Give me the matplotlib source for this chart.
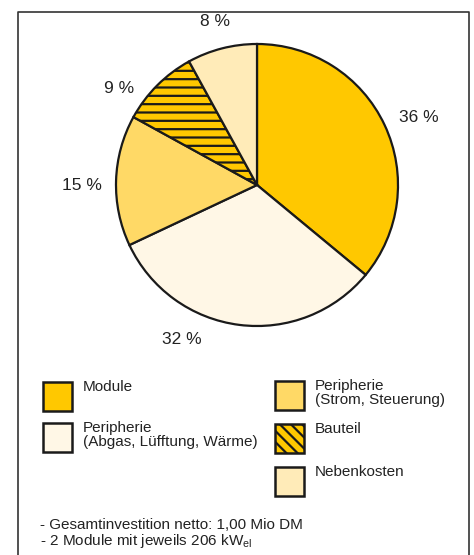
import matplotlib.pyplot as plt
from matplotlib.patches import Rectangle
from matplotlib.lines import Line2D

plt.rcParams['font.family'] = ['Liberation Sans', 'DejaVu Sans']
plt.rcParams['mathtext.fontset'] = 'custom'
plt.rcParams['mathtext.rm'] = 'Liberation Sans'
plt.rcParams['hatch.linewidth'] = 1.6

# --------------------------
# Data
# --------------------------
shares = [36, 32, 15, 9, 8]
names = ["Module",
         "Peripherie\n(Abgas, Lüfftung, Wärme)",
         "Peripherie\n(Strom, Steuerung)",
         "Bauteil",
         "Nebenkosten"]
colors = ["#FFC800", "#FFF7E6", "#FFD966", "#FFC800", "#FFEBB8"]
pie_hatch = [None, None, None, "--", None]
legend_hatch = [None, None, None, "\\\\\\", None]
notes = ["- Gesamtinvestition netto: 1,00 Mio DM",
         "- 2 Module mit jeweils 206 kW$_{\\mathrm{el}}$"]

W, H = 474, 555
fig = plt.figure(figsize=(W / 100, H / 100), dpi=100)

def px(x, y):
    return x / W, 1 - y / H

# --------------------------
# Pie
# --------------------------
cx, cy, r = 257, 185, 141
ax = fig.add_axes([(cx - r) / W, (H - cy - r) / H, 2 * r / W, 2 * r / H])
wedges, texts = ax.pie(
    shares, colors=colors, startangle=90, counterclock=False,
    labels=[f"{s} %" for s in shares], labeldistance=1.22,
    wedgeprops=dict(edgecolor="#1a1a1a", linewidth=1.6),
    textprops=dict(fontsize=12.5, color="#222222"),
)
for w, h in zip(wedges, pie_hatch):
    if h:
        w.set_hatch(h)

# label spots in pixels, to match the original layout
label_px = [(419, 118), (182, 340), (82, 185), (119, 88), (215, 22)]
for t, (lx, ly) in zip(texts, label_px):
    t.set_position(((lx - cx) / r, (cy - ly) / r))
    t.set_ha("center")
    t.set_va("center")

ax.set_xlim(-1, 1)
ax.set_ylim(-1, 1)
ax.set_aspect("equal")
ax.axis("off")

# --------------------------
# Legend (drawn by hand)
# --------------------------
slots = [(43, 382), (43, 423), (275, 381), (275, 424), (275, 467)]
box = 29
for i, (bx, by) in enumerate(slots):
    x0, y0 = px(bx, by + box)
    fig.patches.append(Rectangle((x0, y0), box / W, box / H, transform=fig.transFigure,
                                 facecolor=colors[i], edgecolor="#1a1a1a", linewidth=1.8,
                                 hatch=legend_hatch[i]))
    tx, ty = px(bx + 40, by - 2)
    fig.text(tx, ty, names[i], fontsize=11, color="#222222", va="top", ha="left",
             linespacing=1.0)

# --------------------------
# Notes + frame
# --------------------------
for k, line in enumerate(notes):
    tx, ty = px(40, 529 + k * 16)
    fig.text(tx, ty, line, fontsize=11, color="#222222", va="baseline", ha="left")

fx0, fy0 = px(18, 555)
fx1, fy1 = px(469, 12)
fig.lines.append(Line2D([fx0, fx0, fx1, fx1], [fy0, fy1, fy1, fy0],
                        transform=fig.transFigure, color="#333333", linewidth=1.2))

fig.savefig("out.png", dpi=100)
